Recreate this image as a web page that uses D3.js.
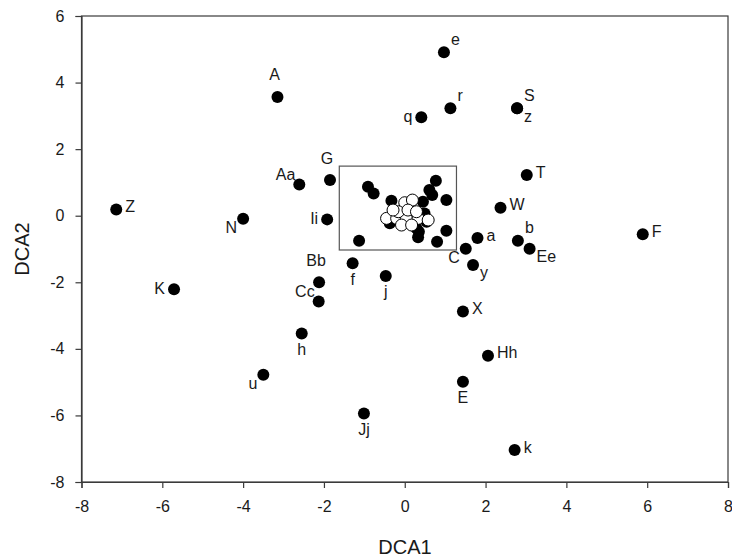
<!DOCTYPE html>
<html><head><meta charset="utf-8">
<script src="https://cdn.jsdelivr.net/npm/d3@7"></script>
<style>
html,body{margin:0;padding:0;background:#fff;}
svg text{font-family:"Liberation Sans",Arial,sans-serif;}
</style></head>
<body>
<svg id="chart" width="732" height="559"></svg>
<script>
// Labelled sites (DCA1, DCA2)
const siteNames = ["A","e","q","r","S","z","T","W","a","C","y","b","Ee","F","X","Hh","E","k","Z","N","Aa","G","Ii","K","Bb","Cc","f","j","h","u","Jj"];
const siteDCA1  = [-3.15,0.97,0.41,1.13,2.78,2.78,3.02,2.37,1.80,1.51,1.69,2.80,3.09,5.89,1.44,2.06,1.44,2.72,-7.14,-4.00,-2.61,-1.85,-1.92,-5.71,-2.12,-2.13,-1.29,-0.47,-2.55,-3.50,-1.01];
const siteDCA2  = [3.57,4.91,2.96,3.23,3.23,3.23,1.22,0.24,-0.67,-0.99,-1.48,-0.75,-0.99,-0.56,-2.88,-4.21,-4.99,-7.04,0.19,-0.09,0.94,1.07,-0.11,-2.21,-2.00,-2.58,-1.43,-1.81,-3.54,-4.78,-5.94];
const labelSide = ["n","ne","w","ne","ne","se","e","e","e","sw","se","ne","se","e","e","e","s","e","e","sw","nw","n","w","w","n","nw","s","s","s","sw","s"];

// Unlabelled sites inside the central box (filled)
const coreFilledDCA1 = [-0.91,-0.77,0.77,0.61,0.68,1.03,-0.33,0.45,-1.13,0.35,0.33,1.03,0.80,0.49,-0.37,0.54,0.29];
const coreFilledDCA2 = [0.87,0.67,1.05,0.77,0.62,0.47,0.45,0.42,-0.75,-0.48,-0.65,-0.45,-0.78,0.07,-0.23,-0.18,-0.38];
// Unlabelled sites inside the central box (open)
const coreOpenDCA1 = [0.00,0.19,-0.45,-0.20,0.04,0.33,0.58,-0.08,0.17,-0.16,0.08,0.29,-0.29];
const coreOpenDCA2 = [0.39,0.47,-0.08,-0.08,-0.08,-0.08,-0.13,-0.28,-0.28,0.12,0.17,0.12,0.17];

// Inset box extent (data units)
const boxDCA1 = [-1.62, 1.28];
const boxDCA2 = [-1.03, 1.49];

const xTicks = [-8,-6,-4,-2,0,2,4,6,8];
const yTicks = [-8,-6,-4,-2,0,2,4,6];

const svg = d3.select("#chart");
const L = 81.5, R = 728, T = 16, B = 482;
const x = d3.scaleLinear().domain([-8,8]).range([L,R]);
const y = d3.scaleLinear().domain([-8,6]).range([B,T]);
const axisColor = "#3a3a3a";

// frame
svg.append("rect").attr("x",L).attr("y",T).attr("width",R-L).attr("height",B-T)
  .attr("fill","none").attr("stroke",axisColor).attr("stroke-width",1.2);

const fmt = d => String(d);
const xa = svg.append("g").attr("transform",`translate(0,${B})`)
  .call(d3.axisBottom(x).tickValues(xTicks).tickSize(6).tickPadding(13).tickFormat(fmt));
const ya = svg.append("g").attr("transform",`translate(${L},0)`)
  .call(d3.axisLeft(y).tickValues(yTicks).tickSize(6).tickPadding(11).tickFormat(fmt));
[xa,ya].forEach(g=>{
  g.select(".domain").attr("stroke",axisColor).attr("stroke-width",1.2);
  g.selectAll(".tick line").attr("stroke",axisColor).attr("stroke-width",1.2);
  g.selectAll(".tick text").attr("fill","#1a1a1a").style("font-size","16px")
    .style("font-family","'Liberation Sans',Arial,sans-serif");
});

// axis titles
svg.append("text").attr("x",405).attr("y",554).attr("text-anchor","middle")
  .style("font-size","20px").attr("fill","#1a1a1a").text("DCA1");
svg.append("text").attr("transform",`translate(28.5,249) rotate(-90)`).attr("text-anchor","middle")
  .style("font-size","20px").attr("fill","#1a1a1a").text("DCA2");

// inset box
svg.append("rect").attr("x",x(boxDCA1[0])).attr("y",y(boxDCA2[1]))
  .attr("width",x(boxDCA1[1])-x(boxDCA1[0])).attr("height",y(boxDCA2[0])-y(boxDCA2[1]))
  .attr("fill","none").attr("stroke","#555").attr("stroke-width",1.2);

const r = 6;
const filled = coreFilledDCA1.map((v,i)=>({x:v,y:coreFilledDCA2[i]}));
svg.append("g").selectAll("circle").data(filled).join("circle")
  .attr("cx",d=>x(d.x)).attr("cy",d=>y(d.y)).attr("r",r).attr("fill","#000");
const open = coreOpenDCA1.map((v,i)=>({x:v,y:coreOpenDCA2[i]}));
svg.append("g").selectAll("circle").data(open).join("circle")
  .attr("cx",d=>x(d.x)).attr("cy",d=>y(d.y)).attr("r",r).attr("fill","#fff")
  .attr("stroke","#000").attr("stroke-width",1);

const sites = siteNames.map((n,i)=>({name:n,x:siteDCA1[i],y:siteDCA2[i],side:labelSide[i]}));
svg.append("g").selectAll("circle").data(sites).join("circle")
  .attr("cx",d=>x(d.x)).attr("cy",d=>y(d.y)).attr("r",r).attr("fill","#000");

const place = {
  n:{a:"middle",dx:-3,dy:-22}, s:{a:"middle",dx:0,dy:16},
  e:{a:"start",dx:9,dy:-3}, w:{a:"end",dx:-9,dy:-1},
  ne:{a:"start",dx:7,dy:-13}, se:{a:"start",dx:7,dy:8},
  nw:{a:"end",dx:-4,dy:-10}, sw:{a:"end",dx:-6,dy:9}
};
svg.append("g").selectAll("text").data(sites).join("text")
  .attr("x",d=>x(d.x)+place[d.side].dx).attr("y",d=>y(d.y)+place[d.side].dy)
  .attr("text-anchor",d=>place[d.side].a).attr("dominant-baseline","central")
  .style("font-size","16px").attr("fill","#1a1a1a").text(d=>d.name);
</script>
</body></html>
